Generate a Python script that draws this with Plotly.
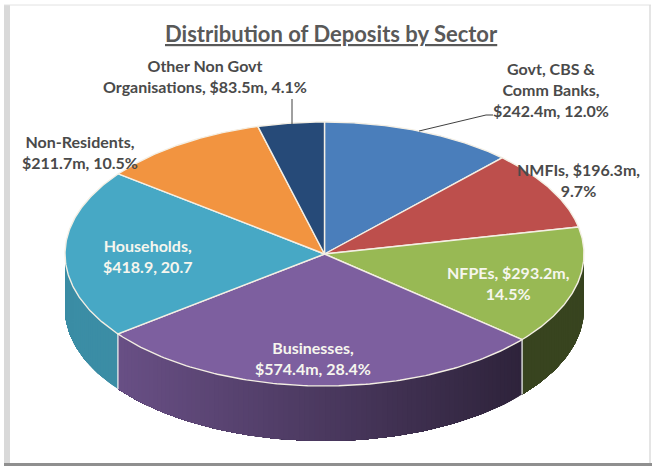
import numpy as np
import plotly.graph_objects as go

sectors = ["Govt, CBS & Comm Banks", "NMFIs", "NFPEs", "Businesses", "Households", "Non-Residents", "Other Non Govt Organisations"]
deposits = [242.4, 196.3, 293.2, 574.4, 418.9, 211.7, 83.5]
colors = ["#4a7ebb", "#bd4f4c", "#98b954", "#7d5f9f", "#47a8c5", "#f29440", "#264a78"]
label_text = [
    "Govt, CBS &<br>Comm Banks,<br>$242.4m, 12.0%",
    "NMFIs, $196.3m,<br>9.7%",
    "NFPEs, $293.2m,<br>14.5%",
    "Businesses,<br>$574.4m, 28.4%",
    "Households,<br>$418.9, 20.7",
    "Non-Residents,<br>$211.7m, 10.5%",
    "Other Non Govt<br>Organisations, $83.5m, 4.1%",
]
title_text = "Distribution of Deposits by Sector"

# Layout of the drawing (pixel-like axis units)
CX, CY, RX, RY, DEPTH = 324.5, 254.0, 259.5, 132.0, 55.0
label_pos = [(551, 89.5), (578, 179.5), (508, 282.5), (313, 358), (147, 255.5), (80, 152), (205, 75.5)]
label_light = [False, False, True, True, True, False, False]
FONT = "Lato, 'Open Sans', sans-serif"


def ex(a):
    return CX + RX * np.sin(a)


def ey(a):
    return CY - RY * np.cos(a)


def hex_rgb(h):
    return [int(h[i:i + 2], 16) for i in (1, 3, 5)]


def shade(x):
    return float(np.interp(x, [65, 118, 524, 584], [0.84, 0.84, 0.37, 0.37]))


fig = go.Figure()
fractions = np.array(deposits) / sum(deposits)
edges = np.concatenate([[0], np.cumsum(fractions)]) * 2 * np.pi

# Side wall: overlapping strips so the shade can change across the front
for i, color in enumerate(colors):
    lo, hi = max(edges[i], np.pi / 2), min(edges[i + 1], 3 * np.pi / 2)
    if hi <= lo:
        continue
    n = max(2, int((hi - lo) / 0.02))
    steps = np.linspace(lo, hi, n + 1)
    for k in range(n):
        arc = np.linspace(steps[k], hi, max(2, n - k + 1))
        s = shade((ex(steps[k]) + ex(steps[k + 1])) / 2)
        r, g, b = [int(c * s) for c in hex_rgb(color)]
        col = f"rgb({r},{g},{b})"
        fig.add_trace(go.Scatter(
            x=np.concatenate([ex(arc), ex(arc[::-1]), [ex(arc[0])]]),
            y=np.concatenate([ey(arc), ey(arc[::-1]) + DEPTH, [ey(arc[0])]]),
            mode="lines", fill="toself", fillcolor=col,
            line=dict(color=col, width=0), hoverinfo="skip", showlegend=False))
for a in edges[1:]:
    if np.pi / 2 < a < 3 * np.pi / 2:
        fig.add_trace(go.Scatter(
            x=[ex(a), ex(a)], y=[ey(a), ey(a) + DEPTH], mode="lines",
            line=dict(color="#eeeeee", width=1.3), hoverinfo="skip", showlegend=False))

# Top face
for i, color in enumerate(colors):
    arc = np.linspace(edges[i], edges[i + 1], 120)
    fig.add_trace(go.Scatter(
        x=np.concatenate([[CX], ex(arc), [CX]]),
        y=np.concatenate([[CY], ey(arc), [CY]]),
        mode="lines", fill="toself", fillcolor=color,
        line=dict(color="#f4efe4", width=1.4),
        name=sectors[i], text=f"{sectors[i]}: ${deposits[i]}m", hoverinfo="text", showlegend=False))

# Leader lines
fig.add_trace(go.Scatter(x=[419, 486, 493], y=[131, 115, 115], mode="lines",
                         line=dict(color="#404040", width=1), hoverinfo="skip", showlegend=False))
fig.add_trace(go.Scatter(x=[292, 292], y=[99, 124], mode="lines",
                         line=dict(color="#404040", width=1), hoverinfo="skip", showlegend=False))

annotations = [dict(x=331, y=33, text=f"<b><u>{title_text}</u></b>", showarrow=False,
                    font=dict(family=FONT, size=22, color="#595959"))]
for (x, y), t, light in zip(label_pos, label_text, label_light):
    annotations.append(dict(x=x, y=y, text=f"<b>{t}</b>", showarrow=False, align="center",
                            font=dict(family=FONT, size=16, color="#f6f6ee" if light else "#4a4a4a")))

frame = [
    dict(type="rect", x0=4, x1=10, y0=5, y1=464, fillcolor="#d9d9d9", line_width=0, layer="below"),
    dict(type="line", x0=4, x1=651, y0=5, y1=5, line=dict(color="#e2e2e2", width=1), layer="below"),
    dict(type="line", x0=650, x1=650, y0=5, y1=464, line=dict(color="#dddddd", width=1.5), layer="below"),
    dict(type="rect", x0=4, x1=652, y0=463, y1=466, fillcolor="#8f8f8f", line_width=0, layer="below"),
]

fig.update_layout(
    width=652, height=467, margin=dict(l=0, r=0, t=0, b=0), autosize=False,
    paper_bgcolor="white", plot_bgcolor="white", showlegend=False,
    xaxis=dict(range=[0, 652], visible=False, fixedrange=True),
    yaxis=dict(range=[467, 0], visible=False, fixedrange=True),
    annotations=annotations, shapes=frame,
)
fig.write_html("out.html", config=dict(displayModeBar=False),
               post_script="document.body.style.margin='0';document.documentElement.style.overflow='hidden';")
